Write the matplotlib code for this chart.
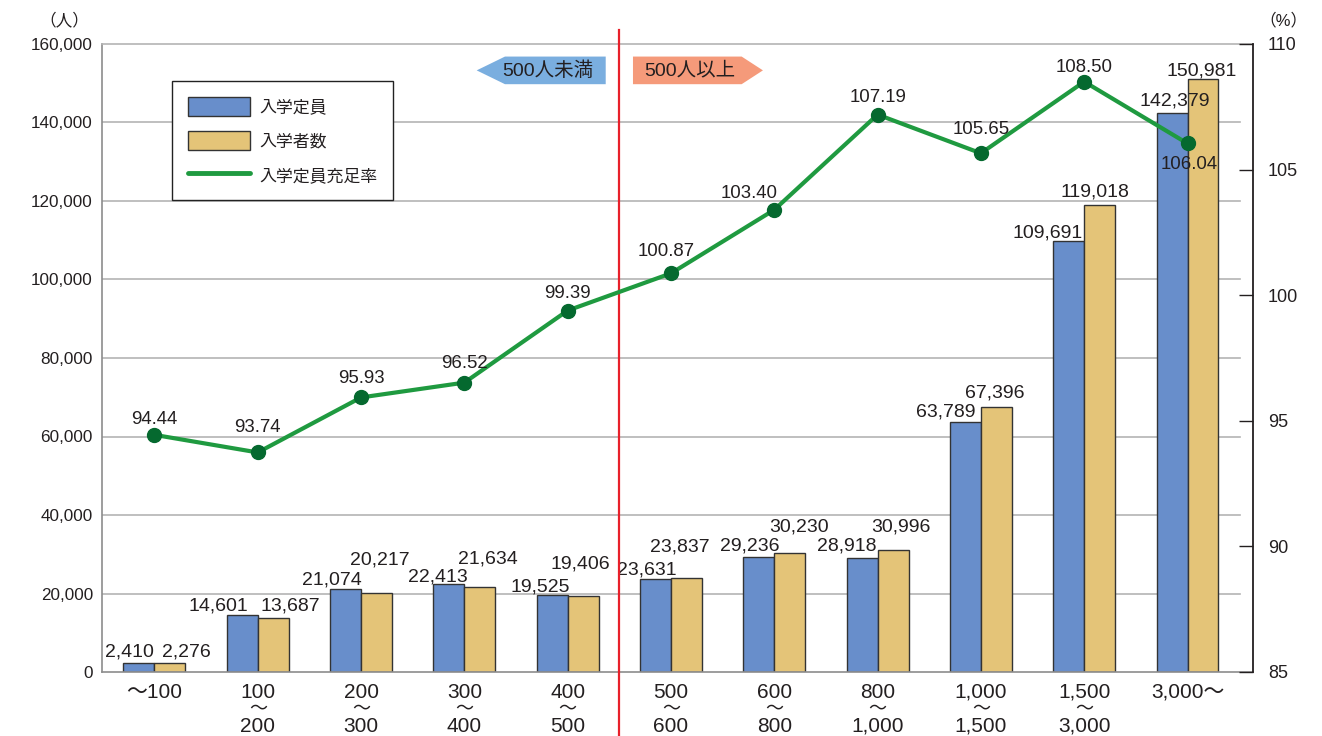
import numpy as np
import matplotlib
matplotlib.use('Agg')
import matplotlib.pyplot as plt
from matplotlib.patches import Polygon, Patch
from matplotlib.lines import Line2D
from matplotlib.ticker import FuncFormatter

plt.rcParams['font.family'] = ['Liberation Sans', 'Noto Sans CJK JP']

# 入学定員規模別（人）
size_top = ['〜100', '100', '200', '300', '400', '500', '600', '800', '1,000', '1,500', '3,000〜']
size_bottom = ['', '200', '300', '400', '500', '600', '800', '1,000', '1,500', '3,000', '']

capacity = [2410, 14601, 21074, 22413, 19525, 23631, 29236, 28918, 63789, 109691, 142379]
enrolled = [2276, 13687, 20217, 21634, 19406, 23837, 30230, 30996, 67396, 119018, 150981]
fill_rate = [94.44, 93.74, 95.93, 96.52, 99.39, 100.87, 103.40, 107.19, 105.65, 108.50, 106.04]

legend_labels = ['入学定員', '入学者数', '入学定員充足率']

# label nudges in pixels (dx, dy to baseline)
cap_dx = [-9.5, -23.5, -13.5, -11, -11.5, -8.7, -9, -15, -20, -21, 3]
cap_dy = [6, 4, 5, 3, 4, 5, 7, 8, 5, 4, 8]
enr_dx = [16, 17, 3, 7.5, -2.5, -7, 9.3, 8, -2, -4.7, -1]
enr_dy = [7, 8, 28, 24, 27, 27, 22, 19, 10, 8, 4]
rate_dx = [0, 0, 0, 0, 0, -5, -25, 0, 0, 0, 2]
rate_dy = [11, 20, 14, 15, 13, 17, 12, 13, 19, 10, -26]

BLUE = '#688ecb'
TAN = '#e4c478'
GREEN = '#1f9a40'
DOT = '#05692f'
TXT = '#231f20'

W, H = 1322, 736
fig = plt.figure(figsize=(W / 100, H / 100), dpi=100)
ax = fig.add_axes([102 / W, (H - 672) / H, (1253 - 102) / W, (672 - 44) / H])
ax2 = ax.twinx()

x = np.arange(len(capacity))
w = 0.30

ax.bar(x - w / 2, capacity, w, color=BLUE, edgecolor='#333333', linewidth=1, zorder=2)
ax.bar(x + w / 2, enrolled, w, color=TAN, edgecolor='#333333', linewidth=1, zorder=2)

for i, v in enumerate(capacity):
    ax.annotate(f'{v:,}', xy=(x[i] - w / 2, v), xytext=(cap_dx[i], cap_dy[i]),
                textcoords='offset pixels', ha='center', va='baseline',
                fontsize=14, color=TXT, zorder=4)
for i, v in enumerate(enrolled):
    ax.annotate(f'{v:,}', xy=(x[i] + w / 2, v), xytext=(enr_dx[i], enr_dy[i]),
                textcoords='offset pixels', ha='center', va='baseline',
                fontsize=14, color=TXT, zorder=4)

# grid
for g in range(20000, 160000, 20000):
    ax.axhline(g, xmax=0.989, color='#b4b4b4', lw=1.2, zorder=0.5)

ax.set_xlim(-0.508, 10.634)
ax.set_ylim(0, 160000)
ax.set_yticks(range(0, 160001, 20000))
ax.yaxis.set_major_formatter(FuncFormatter(lambda v, p: f'{int(v):,}'))
ax.tick_params(axis='y', length=0, pad=6.5, labelsize=12.3, labelcolor=TXT)
ax.set_xticks([])
ax.spines['left'].set_color('#8c8c8c')
ax.spines['bottom'].set_color('#8c8c8c')
ax.spines['top'].set_color('#b4b4b4')
ax.spines['right'].set_visible(False)
for s in ('left', 'bottom', 'top'):
    ax.spines[s].set_linewidth(1.2)

# category labels, two-line ones joined by a wave dash
for i in x:
    ax.annotate(size_top[i], xy=(i, 0), xycoords=ax.get_xaxis_transform(),
                xytext=(0, -26), textcoords='offset pixels', ha='center',
                va='baseline', fontsize=15, color=TXT, annotation_clip=False)
    if size_bottom[i]:
        ax.annotate('〜', xy=(i, 0), xycoords=ax.get_xaxis_transform(),
                    xytext=(0, -37), textcoords='offset pixels', ha='center',
                    va='center', fontsize=13, color=TXT, annotation_clip=False)
        ax.annotate(size_bottom[i], xy=(i, 0), xycoords=ax.get_xaxis_transform(),
                    xytext=(0, -60), textcoords='offset pixels', ha='center',
                    va='baseline', fontsize=15, color=TXT, annotation_clip=False)

# fill rate line
ax2.plot(x, fill_rate, color=GREEN, lw=3, marker='o', ms=10,
         mfc=DOT, mec=DOT, solid_capstyle='round', zorder=3)
for i, r in enumerate(fill_rate):
    ax2.annotate(f'{r:.2f}', xy=(x[i], r), xytext=(rate_dx[i], rate_dy[i]),
                 textcoords='offset pixels', ha='center', va='baseline',
                 fontsize=13.4, color=TXT, zorder=4)

ax2.set_ylim(85, 110)
ax2.set_yticks(range(85, 111, 5))
ax2.tick_params(axis='y', direction='in', length=10, width=1, color=TXT,
                pad=10.8, labelsize=13, labelcolor=TXT)
for s in ('left', 'bottom', 'top'):
    ax2.spines[s].set_visible(False)
ax2.spines['right'].set_color(TXT)
ax2.spines['right'].set_linewidth(1.3)

# 500人 boundary
ax2.plot([4.5, 4.5], [-0.102, 1.022], transform=ax2.get_xaxis_transform(),
         color='#e8202a', lw=1.6, clip_on=False, zorder=2)

tr = ax.get_xaxis_transform()
ax.add_patch(Polygon([(3.119, 0.958), (3.393, 0.980), (4.368, 0.980),
                      (4.368, 0.936), (3.393, 0.936)],
                     closed=True, facecolor='#7aaedf', edgecolor='none',
                     transform=tr, zorder=3))
ax.add_patch(Polygon([(4.632, 0.980), (5.684, 0.980), (5.89, 0.958),
                      (5.684, 0.936), (4.632, 0.936)],
                     closed=True, facecolor='#f59a7a', edgecolor='none',
                     transform=tr, zorder=3))
ax.text(3.804, 0.958, '500人未満', transform=tr, ha='center', va='center',
        fontsize=14, color=TXT, zorder=4)
ax.text(5.184, 0.958, '500人以上', transform=tr, ha='center', va='center',
        fontsize=14, color=TXT, zorder=4)

# legend
handles = [Patch(facecolor=BLUE, edgecolor='#333333', linewidth=1),
           Patch(facecolor=TAN, edgecolor='#333333', linewidth=1),
           Line2D([], [], color=GREEN, lw=3.5, solid_capstyle='round')]
leg = ax2.legend(handles, legend_labels, loc='upper left',
                 bbox_to_anchor=(172 / W, 1 - 81 / H), bbox_transform=fig.transFigure,
                 borderaxespad=0, frameon=True, fancybox=False, edgecolor='#222222',
                 framealpha=1, fontsize=12.2, handlelength=3.65, handleheight=1.3,
                 handletextpad=0.53, labelspacing=0.94, borderpad=0.95)
leg.get_frame().set_linewidth(1.0)
for t in leg.get_texts():
    t.set_color(TXT)

fig.text(64 / W, 1 - 20 / H, '（人）', ha='center', va='center', fontsize=12, color=TXT)
fig.text(1283 / W, 1 - 20 / H, '（%）', ha='center', va='center', fontsize=12, color=TXT)

fig.savefig('out.png', dpi=100)
